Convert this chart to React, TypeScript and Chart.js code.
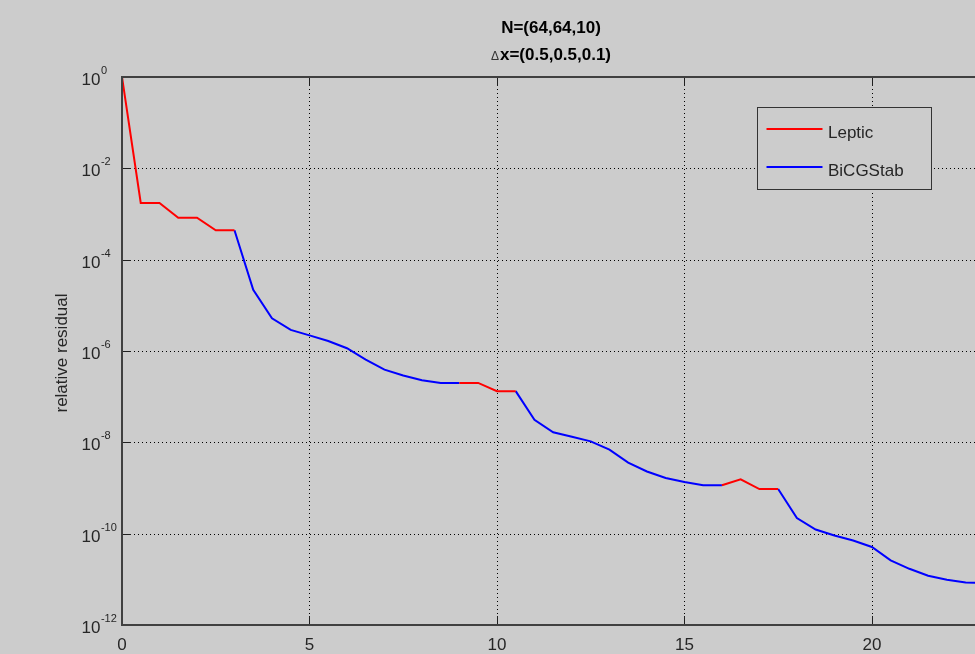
import { useEffect, useRef } from "react";
import { Chart, registerables } from "chart.js";

Chart.register(...registerables);

// ---------- data ----------
const iterations = [
  0, 0.5, 1, 1.5, 2, 2.5, 3, 3.5, 4, 4.5, 5, 5.5, 6, 6.5, 7, 7.5, 8, 8.5, 9, 9.5,
  10, 10.5, 11, 11.5, 12, 12.5, 13, 13.5, 14, 14.5, 15, 15.5, 16, 16.5, 17, 17.5,
  18, 18.5, 19, 19.5, 20, 20.5, 21, 21.5, 22, 22.5, 23,
];

const lepticResidual = [
  1, 1.74e-3, 1.74e-3, 8.3e-4, 8.3e-4, 4.4e-4, 4.4e-4,
  null, null, null, null, null, null, null, null, null, null, null,
  2.0e-7, 2.0e-7, 1.32e-7, 1.32e-7,
  null, null, null, null, null, null, null, null, null, null,
  1.15e-9, 1.55e-9, 9.5e-10, 9.5e-10,
  null, null, null, null, null, null, null, null, null, null, null,
];

const bicgstabResidual = [
  null, null, null, null, null, null,
  4.4e-4, 2.2e-5, 5.2e-6, 2.9e-6, 2.2e-6, 1.66e-6, 1.15e-6, 6.5e-7, 3.9e-7, 2.9e-7, 2.3e-7, 2.0e-7, 2.0e-7,
  null, null,
  1.32e-7, 3.1e-8, 1.66e-8, 1.32e-8, 1.05e-8, 6.9e-9, 3.6e-9, 2.3e-9, 1.66e-9, 1.35e-9, 1.15e-9, 1.15e-9,
  null, null,
  9.5e-10, 2.2e-10, 1.23e-10, 9.1e-11, 7.1e-11, 5.1e-11, 2.6e-11, 1.7e-11, 1.2e-11, 9.8e-12, 8.5e-12, 8.4e-12,
];

const seriesNames = ["Leptic", "BiCGStab"];
const seriesColors = ["#ff0000", "#0000ff"];

const xTickValues = [0, 5, 10, 15, 20];
const yTickExponents = [0, -2, -4, -6, -8, -10, -12];

const titleLine1 = "N=(64,64,10)";
const titleLine2Symbol = "\u0394";
const titleLine2Rest = "x=(0.5,0.5,0.1)";
const yAxisTitle = "relative residual";

const xMin = 0;
const xMax = 22.75;
const yMin = 1e-12;
const yMax = 1;

// ---------- styles ----------
const FONT = "'Liberation Sans', Arial, Helvetica, sans-serif";
const BG = "#cccccc";
const AXIS_COLOR = "#404040";
const TEXT_COLOR = "#262626";

const matlabPlugin = {
  id: "matlabAxes",
  beforeDraw(chart: any) {
    const ctx = chart.ctx;
    ctx.save();
    ctx.fillStyle = BG;
    ctx.fillRect(0, 0, chart.width, chart.height);
    ctx.restore();
  },
  beforeDatasetsDraw(chart: any) {
    const { ctx, chartArea: ca, scales } = chart;
    const xs = scales.x;
    const ys = scales.y;
    ctx.save();
    ctx.strokeStyle = "#000000";
    ctx.lineWidth = 1;
    ctx.setLineDash([1, 3]);
    for (const v of xTickValues) {
      if (v === xMin) continue;
      const px = Math.round(xs.getPixelForValue(v)) + 0.5;
      ctx.beginPath();
      ctx.moveTo(px, ca.top);
      ctx.lineTo(px, ca.bottom);
      ctx.stroke();
    }
    for (const e of yTickExponents) {
      const val = Math.pow(10, e);
      if (val === yMin || val === yMax) continue;
      const py = Math.round(ys.getPixelForValue(val)) + 0.5;
      ctx.beginPath();
      ctx.moveTo(ca.left, py);
      ctx.lineTo(ca.right, py);
      ctx.stroke();
    }
    ctx.restore();
  },
  afterDatasetsDraw(chart: any) {
    const { ctx, chartArea: ca, scales } = chart;
    const xs = scales.x;
    const ys = scales.y;
    ctx.save();

    // ticks (inward)
    ctx.strokeStyle = "#202020";
    ctx.lineWidth = 1;
    ctx.setLineDash([]);
    for (const v of xTickValues) {
      if (v === xMin) continue;
      const px = Math.round(xs.getPixelForValue(v)) + 0.5;
      ctx.beginPath();
      ctx.moveTo(px, ca.top);
      ctx.lineTo(px, ca.top + 9);
      ctx.moveTo(px, ca.bottom);
      ctx.lineTo(px, ca.bottom - 9);
      ctx.stroke();
    }
    for (const e of yTickExponents) {
      const val = Math.pow(10, e);
      if (val === yMin || val === yMax) continue;
      const py = Math.round(ys.getPixelForValue(val)) + 0.5;
      ctx.beginPath();
      ctx.moveTo(ca.left, py);
      ctx.lineTo(ca.left + 9, py);
      ctx.stroke();
    }

    // axis box (left, top, bottom; right lies beyond the picture)
    ctx.strokeStyle = AXIS_COLOR;
    ctx.lineWidth = 2;
    ctx.beginPath();
    ctx.moveTo(ca.right, ca.top);
    ctx.lineTo(ca.left, ca.top);
    ctx.lineTo(ca.left, ca.bottom);
    ctx.lineTo(ca.right, ca.bottom);
    ctx.stroke();

    // x tick labels
    ctx.fillStyle = TEXT_COLOR;
    ctx.font = `17px ${FONT}`;
    ctx.textAlign = "center";
    ctx.textBaseline = "alphabetic";
    for (const v of xTickValues) {
      const px = xs.getPixelForValue(v);
      ctx.fillText(String(v), px, ca.bottom + 25);
    }

    // y tick labels: 10 with superscript exponent
    for (const e of yTickExponents) {
      const py = ys.getPixelForValue(Math.pow(10, e));
      ctx.textAlign = "left";
      ctx.font = `17px ${FONT}`;
      const baseX = ca.left - 40.5;
      ctx.fillText("10", baseX, py + 8);
      const w = ctx.measureText("10").width;
      ctx.font = `11px ${FONT}`;
      ctx.fillText(String(e), baseX + w + 0.5, py - 3);
    }

    // y axis title
    ctx.save();
    ctx.translate(62, (ca.top + ca.bottom) / 2 + 2);
    ctx.rotate(-Math.PI / 2);
    ctx.textAlign = "center";
    ctx.textBaseline = "middle";
    ctx.font = `17px ${FONT}`;
    ctx.fillStyle = TEXT_COLOR;
    ctx.fillText(yAxisTitle, 0, 0);
    ctx.restore();

    // title
    const titleX = 551;
    ctx.fillStyle = "#000000";
    ctx.textAlign = "center";
    ctx.font = `bold 17px ${FONT}`;
    ctx.fillText(titleLine1, titleX, 33);
    ctx.font = `bold 17px ${FONT}`;
    const restW = ctx.measureText(titleLine2Rest).width;
    ctx.font = `12px ${FONT}`;
    const symW = ctx.measureText(titleLine2Symbol).width;
    const startX = titleX - (restW + symW + 1) / 2;
    ctx.textAlign = "left";
    ctx.fillStyle = "#333333";
    ctx.fillText(titleLine2Symbol, startX, 60);
    ctx.fillStyle = "#000000";
    ctx.font = `bold 17px ${FONT}`;
    ctx.fillText(titleLine2Rest, startX + symW + 1, 60);

    // legend
    const lx = ca.left + 635.5;
    const ly = ca.top + 30.5;
    const lw = 174;
    const lh = 82;
    ctx.fillStyle = BG;
    ctx.fillRect(lx, ly, lw, lh);
    ctx.strokeStyle = "#333333";
    ctx.lineWidth = 1;
    ctx.strokeRect(lx, ly, lw, lh);
    const datasets = chart.data.datasets;
    datasets.forEach((ds: any, i: number) => {
      const rowY = ly + 21.5 + i * 38;
      ctx.strokeStyle = ds.borderColor;
      ctx.lineWidth = 2;
      ctx.beginPath();
      ctx.moveTo(lx + 9, rowY);
      ctx.lineTo(lx + 65, rowY);
      ctx.stroke();
      ctx.fillStyle = TEXT_COLOR;
      ctx.font = `17px ${FONT}`;
      ctx.textAlign = "left";
      ctx.textBaseline = "alphabetic";
      ctx.fillText(ds.label, lx + 70.5, rowY + 9);
    });

    ctx.restore();
  },
};

export default function App() {
  const canvasRef = useRef<HTMLCanvasElement | null>(null);

  useEffect(() => {
    const canvas = canvasRef.current;
    if (!canvas) return;
    const series = [lepticResidual, bicgstabResidual];
    const chart = new Chart(canvas, {
      type: "line",
      data: {
        datasets: series.map((vals, i) => ({
          label: seriesNames[i],
          data: iterations.map((x, j) => ({ x, y: vals[j] as any })),
          borderColor: seriesColors[i],
          backgroundColor: seriesColors[i],
          borderWidth: 2,
          pointRadius: 0,
          tension: 0,
          spanGaps: false,
          fill: false,
        })),
      },
      options: {
        animation: false,
        responsive: false,
        maintainAspectRatio: false,
        layout: { padding: { left: 122, top: 77, right: 0, bottom: 29 } },
        scales: {
          x: { type: "linear", min: xMin, max: xMax, display: false },
          y: { type: "logarithmic", min: yMin, max: yMax, display: false },
        },
        plugins: {
          legend: { display: false },
          title: { display: false },
          tooltip: { enabled: false },
        },
        events: [],
      },
      plugins: [matlabPlugin],
    } as any);
    return () => chart.destroy();
  }, []);

  return (
    <div style={{ position: "absolute", left: 0, top: 0, width: 975, height: 654, background: BG }}>
      <canvas ref={canvasRef} width={975} height={654} style={{ display: "block" }} />
    </div>
  );
}
